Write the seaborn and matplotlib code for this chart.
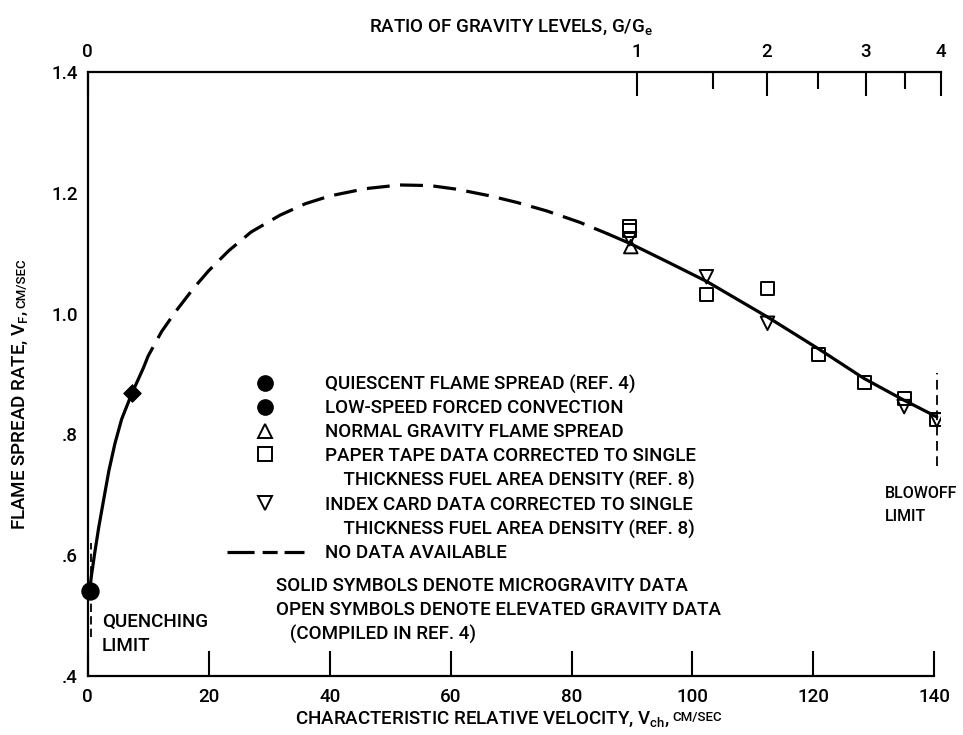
import matplotlib
matplotlib.use("Agg")
import matplotlib.pyplot as plt
from matplotlib.lines import Line2D
import seaborn as sns

# ---- flame spread rate vs characteristic relative velocity (cm/s) ----
# correlation curve, low-velocity solid branch
low_v = [0.3, 0.6, 1.1, 1.8, 2.6, 3.5, 4.5, 5.6, 7.3, 8.3, 9.2]
low_f = [0.54, 0.565, 0.60, 0.645, 0.69, 0.74, 0.785, 0.825, 0.868, 0.89, 0.91]
# correlation curve, region with no data (dashed)
mid_v = [9.2, 10.0, 12.2, 14.5, 17.5, 20.0, 23.3, 27.0, 31.8, 36.0, 40.1,
         46.0, 51.6, 56.6, 61.0, 66.5, 71.0, 75.9, 81.4, 86.0]
mid_f = [0.91, 0.930, 0.970, 1.003, 1.042, 1.071, 1.104, 1.135, 1.163, 1.182, 1.195,
         1.207, 1.213, 1.212, 1.206, 1.195, 1.184, 1.170, 1.151, 1.132]
# correlation curve, elevated-gravity solid branch
high_v = [86.0, 89.7, 96.0, 102.4, 112.3, 121.1, 128.3, 134.9, 140.4]
high_f = [1.132, 1.116, 1.085, 1.053, 0.995, 0.940, 0.893, 0.857, 0.829]

# measured points
quiescent_v, quiescent_f = [0.3], [0.54]
forced_v, forced_f = [7.3], [0.868]
normal_v, normal_f = [89.8], [1.111]
tape_v = [89.6, 89.6, 102.3, 112.4, 120.9, 128.4, 135.0, 140.4]
tape_f = [1.144, 1.138, 1.032, 1.042, 0.933, 0.886, 0.860, 0.824]
card_v = [89.6, 102.3, 112.4, 135.0, 140.4]
card_f = [1.124, 1.061, 0.984, 0.846, 0.824]

# limits
quench_v, quench_f = [0.5, 0.5], [0.465, 0.62]
blowoff_v, blowoff_f = [140.4, 140.4], [0.747, 0.902]

# axis ticks
x_ticks = [0, 20, 40, 60, 80, 100, 120, 140]
y_ticks = [0.4, 0.6, 0.8, 1.0, 1.2, 1.4]
y_tick_labels = [".4", ".6", ".8", "1.0", "1.2", "1.4"]
# gravity ratio G/Ge and the velocity it corresponds to
gravity_major = ["0", "1", "2", "3", "4"]
gravity_major_v = [0, 90.8, 112.3, 128.7, 141.1]
gravity_minor_v = [103.4, 120.7, 135.2]

sns.set_style("white", {"axes.edgecolor": "black", "xtick.color": "black",
                        "ytick.color": "black", "text.color": "black",
                        "axes.labelcolor": "black"})
FONT = ["Roboto", "DejaVu Sans"]
plt.rcParams["font.family"] = FONT
plt.rcParams["font.weight"] = "medium"
plt.rcParams["mathtext.fontset"] = "custom"
plt.rcParams["mathtext.rm"] = "Roboto:medium"
plt.rcParams["mathtext.it"] = "Roboto:medium"
plt.rcParams["lines.scale_dashes"] = False

FS = 13.5
fig = plt.figure(figsize=(9.63, 7.35), dpi=100)
ax = fig.add_axes([0.0911, 0.0803, 0.8861, 0.8217])

LW = 2.3
long_dash = (0, (16.5, 7.5))
sns.lineplot(x=low_v, y=low_f, ax=ax, color="black", lw=LW, sort=False, estimator=None)
sns.lineplot(x=mid_v, y=mid_f, ax=ax, color="black", lw=LW, sort=False, estimator=None,
             linestyle=long_dash)
sns.lineplot(x=high_v, y=high_f, ax=ax, color="black", lw=LW, sort=False, estimator=None)
sns.lineplot(x=quench_v, y=quench_f, ax=ax, color="black", lw=1.3, sort=False,
             estimator=None, linestyle=(0, (6, 3)))
sns.lineplot(x=blowoff_v, y=blowoff_f, ax=ax, color="black", lw=1.3, sort=False,
             estimator=None, linestyle=(0, (7, 4)))

MEW = 1.4
sns.scatterplot(x=tape_v, y=tape_f, ax=ax, marker="s", s=88, facecolor="none",
                edgecolor="black", linewidth=MEW, zorder=4)
sns.scatterplot(x=card_v, y=card_f, ax=ax, marker="v", s=95, facecolor="none",
                edgecolor="black", linewidth=MEW, zorder=4)
sns.scatterplot(x=normal_v, y=normal_f, ax=ax, marker="^", s=95, facecolor="none",
                edgecolor="black", linewidth=MEW, zorder=4)
sns.scatterplot(x=quiescent_v, y=quiescent_f, ax=ax, marker="o", s=150, color="black",
                edgecolor="black", zorder=5, clip_on=False)
sns.scatterplot(x=forced_v, y=forced_f, ax=ax, marker="D", s=80, color="black",
                edgecolor="black", zorder=5)

ax.set_xlim(0, 141.1)
ax.set_ylim(0.4, 1.4)
ax.set_xlabel("")
ax.set_ylabel("")

# bottom / left axes
ax.spines["right"].set_visible(False)
ax.spines["top"].set_visible(False)
ax.spines["bottom"].set_bounds(0, 140)
for s in ("left", "bottom"):
    ax.spines[s].set_linewidth(1.6)
ax.set_xticks(x_ticks, [str(t) for t in x_ticks])
ax.set_yticks(y_ticks, y_tick_labels)
ax.tick_params(axis="x", direction="in", length=18, width=1.5, pad=9, labelsize=FS)
ax.tick_params(axis="y", direction="in", length=14.5, width=1.3, pad=7, labelsize=FS)

# top axis: ratio of gravity levels
top = ax.twiny()
top.set_xlim(ax.get_xlim())
for s in ("right", "left", "bottom"):
    top.spines[s].set_visible(False)
top.spines["top"].set_linewidth(1.6)
top.set_xticks(gravity_major_v, gravity_major)
top.set_xticks(gravity_minor_v, minor=True)
top.tick_params(axis="x", which="major", direction="in", length=17, width=1.5,
                pad=8, labelsize=FS)
top.tick_params(axis="x", which="minor", direction="in", length=12, width=1.5)
top.grid(False)

# axis titles
xl = fig.text(295 / 963, 1 - 724 / 735,
              "CHARACTERISTIC RELATIVE VELOCITY, V$_{ch}$, ",
              fontsize=FS, ha="left", va="baseline")
ax.annotate("CM/SEC", xy=(1, 0), xycoords=xl, xytext=(1, 3.5), textcoords="offset points",
            fontsize=9.5, ha="left", va="bottom")
yl = fig.text(20 / 963, 1 - 530 / 735, "FLAME SPREAD RATE, V$_F$, ",
              fontsize=FS, rotation=90, ha="center", va="bottom")
ax.annotate("CM/SEC", xy=(0.5, 1), xycoords=yl, xytext=(1.5, 1), textcoords="offset points",
            fontsize=9.5, rotation=90, ha="center", va="bottom")
fig.text(511 / 963, 1 - 27 / 735, "RATIO OF GRAVITY LEVELS, G/G$_e$",
         fontsize=FS, ha="center", va="center")

# limit annotations
ax.text(2.3, 0.470, "QUENCHING\nLIMIT", fontsize=FS, ha="left", va="center",
        linespacing=1.45)
ax.text(131.8, 0.683, "BLOWOFF\nLIMIT", fontsize=11.5, ha="left", va="center",
        linespacing=1.65)

# key
mk = dict(color="black", linestyle="none")
handles = [
    Line2D([], [], marker="o", markersize=11, markerfacecolor="black", **mk),
    Line2D([], [], marker="o", markersize=11, markerfacecolor="black", **mk),
    Line2D([], [], marker="^", markersize=9.5, markerfacecolor="none", markeredgewidth=MEW, **mk),
    Line2D([], [], marker="s", markersize=9.5, markerfacecolor="none", markeredgewidth=MEW, **mk),
    Line2D([], [], linestyle="none"),
    Line2D([], [], marker="v", markersize=9.5, markerfacecolor="none", markeredgewidth=MEW, **mk),
    Line2D([], [], linestyle="none"),
    Line2D([], [], color="black", lw=LW, linestyle=(0, (19.5, 5.8, 10.8, 5.0))),
]
labels = [
    "QUIESCENT FLAME SPREAD (REF. 4)",
    "LOW-SPEED FORCED CONVECTION",
    "NORMAL GRAVITY FLAME SPREAD",
    "PAPER TAPE DATA CORRECTED TO SINGLE",
    "    THICKNESS FUEL AREA DENSITY (REF. 8)",
    "INDEX CARD DATA CORRECTED TO SINGLE",
    "    THICKNESS FUEL AREA DENSITY (REF. 8)",
    "NO DATA AVAILABLE",
]
ax.legend(handles, labels, loc="upper left", bbox_to_anchor=(0.163, 0.499),
          frameon=False, fontsize=FS, handlelength=4.1, handletextpad=1.15,
          labelspacing=0.31, borderpad=0, borderaxespad=0)

ax.text(0.2207, 0.164,
        "SOLID SYMBOLS DENOTE MICROGRAVITY DATA\n"
        "OPEN SYMBOLS DENOTE ELEVATED GRAVITY DATA\n"
        "   (COMPILED IN REF. 4)",
        transform=ax.transAxes, fontsize=FS, ha="left", va="top", linespacing=1.42)

fig.savefig("out.png", dpi=100)
